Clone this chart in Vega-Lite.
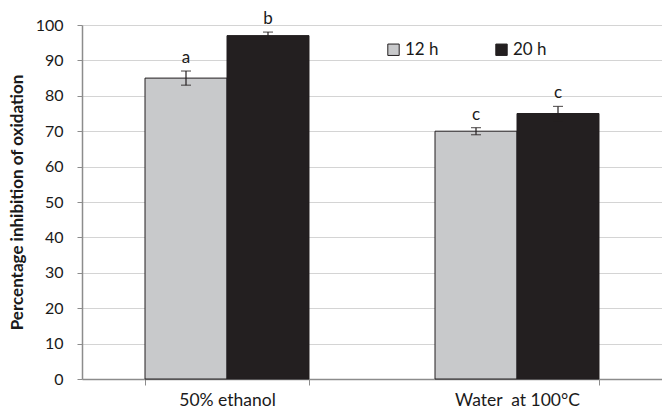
{
  "$schema": "https://vega.github.io/schema/vega-lite/v6.json",
  "width": 580,
  "height": 354,
  "autosize": {"type": "none"},
  "padding": {"left": 82, "top": 25, "right": 0, "bottom": 33},
  "background": "white",
  "config": {
    "font": "Lato",
    "view": {"stroke": null},
    "axis": {"labelFont": "Lato", "titleFont": "Lato"}
  },
  "data": {
    "values": [
      {"group": "50% ethanol", "time": "12 h", "value": 85, "lo": 83, "hi": 87, "letter": "a"},
      {"group": "50% ethanol", "time": "20 h", "value": 97, "lo": 96, "hi": 98, "letter": "b"},
      {"group": "Water\u00a0 at 100°C", "time": "12 h", "value": 70, "lo": 69, "hi": 71, "letter": "c"},
      {"group": "Water\u00a0 at 100°C", "time": "20 h", "value": 75, "lo": 73, "hi": 77, "letter": "c"}
    ]
  },
  "resolve": {"axis": {"y": "independent"}},
  "encoding": {
    "x": {
      "field": "group",
      "type": "nominal",
      "sort": null,
      "scale": {"paddingInner": 0.4345, "paddingOuter": 0.21725},
      "axis": {
        "title": null,
        "labelAngle": 0,
        "labelFontSize": 17.5,
        "labelColor": "#1a1a1a",
        "labelPadding": 6,
        "tickBand": "extent",
        "tickSize": 6,
        "tickColor": "#8c8c8c",
        "domainColor": "#8c8c8c",
        "domainWidth": 1.5
      }
    },
    "xOffset": {"field": "time", "type": "nominal", "sort": ["12 h", "20 h"]}
  },
  "layer": [
    {
      "mark": {"type": "bar", "stroke": "#231f20", "strokeWidth": 1},
      "encoding": {
        "y": {
          "field": "value",
          "type": "quantitative",
          "scale": {"domain": [0, 100], "nice": false},
          "axis": {
            "title": "Percentage inhibition of oxidation",
            "titleFontSize": 17,
            "titleFontWeight": "bold",
            "titleColor": "#1a1a1a",
            "titlePadding": 9,
            "values": [0, 10, 20, 30, 40, 50, 60, 70, 80, 90, 100],
            "tickCount": 11,
            "labelOverlap": false,
            "labelFontSize": 16,
            "labelColor": "#1a1a1a",
            "labelPadding": 14,
            "tickSize": 5,
            "tickColor": "#8c8c8c",
            "domainColor": "#8c8c8c",
            "domainWidth": 1.5,
            "grid": true,
            "gridColor": "#d4d4d4",
            "gridWidth": 1
          }
        },
        "color": {
          "field": "time",
          "type": "nominal",
          "scale": {"domain": ["12 h", "20 h"], "range": ["#c8c9cb", "#231f20"]},
          "legend": {
            "title": null,
            "orient": "none",
            "legendX": 303,
            "legendY": 16,
            "direction": "horizontal",
            "symbolType": "square",
            "symbolSize": 130,
            "symbolStrokeColor": "#231f20",
            "symbolStrokeWidth": 1,
            "symbolOpacity": 1,
            "labelFontSize": 17,
            "labelColor": "#1a1a1a",
            "labelOffset": 3,
            "columnPadding": 54
          }
        }
      }
    },
    {
      "mark": {"type": "rule", "color": "#231f20", "strokeWidth": 1.2},
      "encoding": {
        "y": {"field": "lo", "type": "quantitative", "axis": null},
        "y2": {"field": "hi"}
      }
    },
    {
      "mark": {"type": "tick", "color": "#231f20", "thickness": 1.2, "size": 10},
      "encoding": {"y": {"field": "lo", "type": "quantitative", "axis": null}}
    },
    {
      "mark": {"type": "tick", "color": "#231f20", "thickness": 1.2, "size": 10},
      "encoding": {"y": {"field": "hi", "type": "quantitative", "axis": null}}
    },
    {
      "mark": {"type": "text", "dy": -13, "fontSize": 17, "color": "#1a1a1a", "font": "Lato"},
      "encoding": {
        "y": {"field": "hi", "type": "quantitative", "axis": null},
        "text": {"field": "letter"}
      }
    }
  ]
}
